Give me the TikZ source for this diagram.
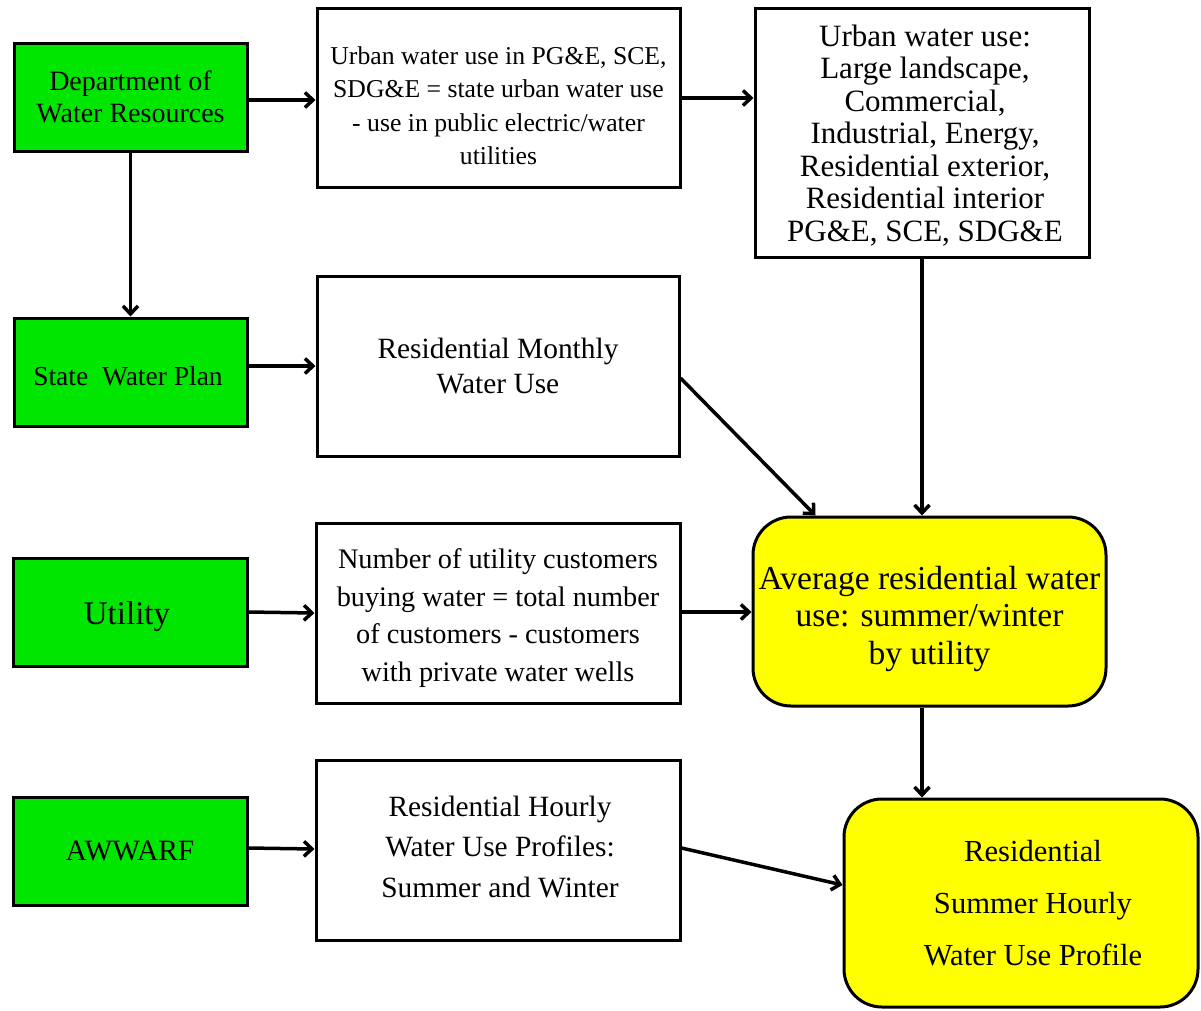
\documentclass[tikz,border=0pt]{standalone}
\usepackage{fontspec}
\setmainfont{Liberation Serif}
\usetikzlibrary{arrows.meta,calc}
\definecolor{boxgreen}{RGB}{0,230,0}
\definecolor{boxyellow}{RGB}{255,255,0}
\tikzset{
  srcbox/.style={draw=black, line width=3pt, fill=boxgreen, inner sep=0pt, align=center},
  stepbox/.style={draw=black, line width=3pt, fill=white, inner sep=0pt, align=center},
  resbox/.style={draw=black, line width=3pt, fill=boxyellow, rounded corners=38pt, inner sep=0pt, align=center},
  txt/.style={inner sep=0pt, align=center},
  conn/.style={line width=3.5pt, -{Straight Barb[length=8pt,width=15pt,line width=3.5pt]}},
  fs/.style n args={2}{font=\fontsize{#1}{#2}\selectfont}
}
\begin{document}
\begin{tikzpicture}[x=1pt,y=-1pt]
\useasboundingbox (0,0) rectangle (1201,1010);
% source boxes
\node[srcbox, minimum width=233pt, minimum height=108pt, fs={28}{32}] (dwr) at (130.5,97) {Department of\\Water Resources};
\node[srcbox, minimum width=233pt, minimum height=108pt] (swp) at (130.5,372) {};
\node[txt, fs={27.5}{30}] (swpt) at (128,376) {State\ \ Water Plan};
\node[srcbox, minimum width=234pt, minimum height=108pt] (util) at (130,612) {};
\node[txt, fs={33}{36}] (utilt) at (127,617) {Utility};
\node[srcbox, minimum width=234pt, minimum height=108pt, fs={29.5}{34}] (aww) at (130,851) {AWWARF};
% middle boxes
\node[stepbox, minimum width=363pt, minimum height=179pt] (b1) at (498.5,97.5) {};
\node[txt, fs={25.7}{33.5}] (b1t) at (498.5,105.5) {Urban water use in PG\&E, SCE,\\SDG\&E = state urban water use\\- use in public electric/water\\utilities};
\node[stepbox, minimum width=362pt, minimum height=180pt, fs={29.4}{35}] (rm) at (498,366) {Residential Monthly\\Water Use};
\node[stepbox, minimum width=364pt, minimum height=180pt] (nuc) at (498,613) {};
\node[txt, fs={28.3}{37.5}] (nuct) at (498,618) {Number of utility customers\\buying water = total number\\of customers - customers\\with private water wells};
\node[stepbox, minimum width=364pt, minimum height=180pt] (rh) at (498,850) {};
\node[txt, fs={29.4}{40.5}] (rht) at (500,847) {Residential Hourly\\Water Use Profiles:\\Summer and Winter};
% right boxes
\node[stepbox, minimum width=334pt, minimum height=249pt] (b2) at (922,132.5) {};
\node[txt, fs={31}{32.5}] (b2t) at (925,135.5) {Urban water use:\\Large landscape,\\Commercial,\\Industrial, Energy,\\Residential exterior,\\Residential interior\\PG\&E, SCE, SDG\&E};
\node[resbox, minimum width=353pt, minimum height=189pt] (y1) at (929.5,611.5) {};
\node[txt, fs={33.5}{37.5}] (y1t) at (929.5,618.5) {Average residential water\\use: summer/winter\\by utility};
\node[resbox, minimum width=354pt, minimum height=208pt] (y2) at (1021,903) {};
\node[txt, fs={30.6}{52}] (y2t) at (1033,903) {Residential\\Summer Hourly\\Water Use Profile};
% connectors
\draw[conn] (dwr.east |- 0,100) -- (b1.west |- 0,100);
\draw[conn] (dwr.south) -- (swp.north);
\draw[conn] (b1.east |- 0,98) -- (b2.west |- 0,98);
\draw[conn] (rm.west -| swp.east) -- (rm.west);
\draw[conn] ([yshift=-12pt]rm.east) -- ([xshift=-114pt]y1.north);
\draw[conn] (b2.south) -- (b2.south |- y1.north);
\draw[conn] (util.east |- 0,612) -- (nuc.west |- 0,613);
\draw[conn] (nuc.east |- 0,612) -- (y1.west |- 0,612);
\draw[conn] (b2.south |- y1.south) -- (b2.south |- y2.north);
\draw[conn] (aww.east |- 0,848) -- (rh.west |- 0,849);
\draw[conn] (rh.east |- 0,848) -- ([yshift=18pt]y2.west);
\end{tikzpicture}
\end{document}
